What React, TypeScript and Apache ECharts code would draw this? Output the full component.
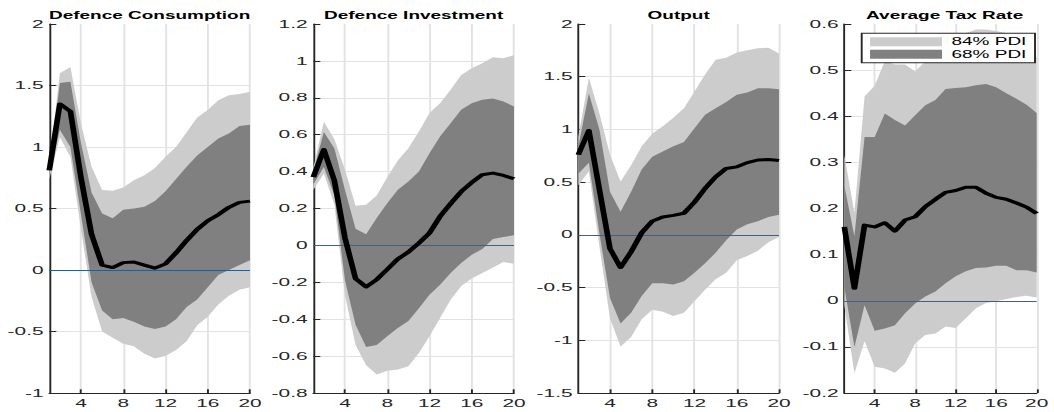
import React, { useEffect, useRef } from 'react';
import * as echarts from 'echarts';

// Horizon (quarters after the shock)
const periods = [1, 2, 3, 4, 5, 6, 7, 8, 9, 10, 11, 12, 13, 14, 15, 16, 17, 18, 19, 20];

// Defence Consumption
const dcMedian = [0.81, 1.35, 1.29, 0.75, 0.29, 0.04, 0.02, 0.06, 0.065, 0.04, 0.015, 0.05, 0.14, 0.24, 0.33, 0.40, 0.45, 0.51, 0.55, 0.56];
const dcUpper84 = [0.86, 1.60, 1.65, 1.19, 0.84, 0.65, 0.645, 0.67, 0.73, 0.77, 0.83, 0.92, 1.00, 1.12, 1.24, 1.30, 1.38, 1.42, 1.43, 1.45];
const dcUpper68 = [0.83, 1.52, 1.53, 1.03, 0.63, 0.46, 0.42, 0.49, 0.50, 0.515, 0.56, 0.64, 0.74, 0.84, 0.93, 1.00, 1.07, 1.11, 1.17, 1.18];
const dcLower68 = [0.78, 1.14, 1.00, 0.45, -0.10, -0.33, -0.40, -0.39, -0.42, -0.46, -0.48, -0.46, -0.40, -0.30, -0.24, -0.14, -0.04, 0.00, 0.04, 0.08];
const dcLower84 = [0.74, 1.08, 0.92, 0.33, -0.22, -0.50, -0.55, -0.60, -0.62, -0.68, -0.72, -0.70, -0.65, -0.58, -0.45, -0.38, -0.28, -0.21, -0.16, -0.14];

// Defence Investment
const diMedian = [0.37, 0.52, 0.35, 0.04, -0.18, -0.225, -0.185, -0.13, -0.074, -0.036, 0.013, 0.067, 0.157, 0.226, 0.292, 0.341, 0.383, 0.392, 0.379, 0.361];
const diUpper84 = [0.42, 0.67, 0.575, 0.41, 0.215, 0.22, 0.27, 0.37, 0.46, 0.527, 0.617, 0.717, 0.771, 0.843, 0.924, 0.96, 0.987, 1.02, 1.014, 1.032];
const diUpper68 = [0.40, 0.615, 0.525, 0.30, 0.09, 0.06, 0.148, 0.229, 0.301, 0.347, 0.40, 0.50, 0.59, 0.662, 0.735, 0.77, 0.79, 0.796, 0.78, 0.753];
const diLower68 = [0.33, 0.425, 0.27, -0.19, -0.43, -0.55, -0.54, -0.493, -0.448, -0.41, -0.34, -0.267, -0.213, -0.15, -0.096, -0.05, -0.02, 0.035, 0.045, 0.055];
const diLower84 = [0.30, 0.39, 0.22, -0.27, -0.54, -0.65, -0.70, -0.68, -0.673, -0.655, -0.583, -0.493, -0.394, -0.294, -0.22, -0.18, -0.15, -0.12, -0.09, -0.10];

// Output
const outMedian = [0.76, 0.99, 0.43, -0.13, -0.31, -0.16, 0.02, 0.13, 0.17, 0.185, 0.205, 0.31, 0.44, 0.55, 0.63, 0.645, 0.685, 0.71, 0.715, 0.705];
const outUpper84 = [0.93, 1.49, 1.15, 0.76, 0.505, 0.66, 0.84, 0.96, 1.03, 1.11, 1.20, 1.36, 1.52, 1.66, 1.68, 1.73, 1.75, 1.77, 1.775, 1.72];
const outUpper68 = [0.84, 1.34, 1.00, 0.41, 0.22, 0.41, 0.62, 0.74, 0.79, 0.84, 0.88, 1.01, 1.14, 1.20, 1.26, 1.33, 1.35, 1.39, 1.39, 1.38];
const outLower68 = [0.58, 0.685, 0.015, -0.60, -0.84, -0.74, -0.58, -0.46, -0.46, -0.47, -0.44, -0.36, -0.27, -0.17, -0.05, 0.05, 0.10, 0.13, 0.17, 0.19];
const outLower84 = [0.47, 0.60, -0.11, -0.79, -1.06, -0.97, -0.80, -0.71, -0.73, -0.77, -0.74, -0.63, -0.52, -0.42, -0.36, -0.24, -0.20, -0.15, -0.07, -0.02];

// Average Tax Rate
const taxMedian = [0.16, 0.027, 0.164, 0.16, 0.169, 0.151, 0.175, 0.182, 0.204, 0.22, 0.235, 0.239, 0.246, 0.246, 0.233, 0.224, 0.22, 0.212, 0.203, 0.189];
const taxUpper84 = [0.316, 0.19, 0.443, 0.466, 0.519, 0.512, 0.512, 0.497, 0.519, 0.54, 0.56, 0.57, 0.58, 0.588, 0.588, 0.585, 0.58, 0.57, 0.55, 0.528];
const taxUpper68 = [0.25, 0.14, 0.355, 0.355, 0.406, 0.392, 0.38, 0.402, 0.424, 0.435, 0.459, 0.461, 0.463, 0.467, 0.47, 0.463, 0.45, 0.438, 0.425, 0.407];
const taxLower68 = [0.03, -0.10, -0.01, -0.065, -0.06, -0.053, -0.027, -0.006, 0.009, 0.02, 0.038, 0.053, 0.064, 0.071, 0.072, 0.076, 0.076, 0.066, 0.066, 0.061];
const taxLower84 = [-0.01, -0.157, -0.088, -0.143, -0.147, -0.156, -0.136, -0.092, -0.074, -0.071, -0.056, -0.059, -0.038, -0.016, -0.005, -0.001, 0.004, 0.008, 0.011, 0.007];

const panelTitles = ['Defence Consumption', 'Defence Investment', 'Output', 'Average Tax Rate'];
const yMins = [-1, -0.8, -1.5, -0.2];
const yMaxs = [2, 1.2, 2, 0.6];
const yIntervals = [0.5, 0.2, 0.5, 0.1];

const bandNames = ['84% PDI', '68% PDI'];

// Layout: the figure is drawn on a narrower canvas and widened horizontally.
const PAGE_W = 1054;
const PAGE_H = 412;
const INNER_W = 555;
const STRETCH = PAGE_W / INNER_W;
const PANEL_LEFTS = [49.3, 313.3, 578.3, 844.3]; // in page pixels
const PANEL_W = 200.7;
const PANEL_TOP = 24;
const PANEL_H = 369;

const LIGHT = '#cccccc';
const DARK = '#808080';
const AXIS = '#262626';
const GRID = '#e2e2e2';
const ZERO_COLORS = ['#0a66b4', '#44607f', '#44607f', '#44607f'];
const FONT = '"Liberation Sans", Arial, Helvetica, sans-serif';

const panelData = [
  { median: dcMedian, u84: dcUpper84, u68: dcUpper68, l68: dcLower68, l84: dcLower84 },
  { median: diMedian, u84: diUpper84, u68: diUpper68, l68: diLower68, l84: diLower84 },
  { median: outMedian, u84: outUpper84, u68: outUpper68, l68: outLower68, l84: outLower84 },
  { median: taxMedian, u84: taxUpper84, u68: taxUpper68, l68: taxLower68, l84: taxLower84 },
];

const everyFourth = (_idx: number, value: string) => Number(value) % 4 === 0;

function buildOption() {
  const grid = PANEL_LEFTS.map((l) => ({
    left: l / STRETCH,
    top: PANEL_TOP,
    width: PANEL_W / STRETCH,
    height: PANEL_H,
    containLabel: false,
  }));

  const xAxis = PANEL_LEFTS.map((_, i) => ({
    type: 'category',
    gridIndex: i,
    position: 'bottom',
    data: periods.map(String),
    boundaryGap: false,
    axisLine: { show: true, onZero: false, lineStyle: { color: AXIS, width: 1 } },
    axisTick: { show: true, inside: true, length: 3.7, interval: everyFourth, lineStyle: { color: AXIS } },
    axisLabel: { interval: everyFourth, color: AXIS, fontSize: 11, fontFamily: FONT, margin: 5 },
    splitLine: { show: true, interval: everyFourth, lineStyle: { color: GRID, width: 1 } },
  }));

  const yAxis = PANEL_LEFTS.map((_, i) => ({
    type: 'value',
    gridIndex: i,
    position: 'left',
    min: yMins[i],
    max: yMaxs[i],
    interval: yIntervals[i],
    axisLine: { show: true, onZero: false, lineStyle: { color: AXIS, width: 1 } },
    axisTick: { show: true, inside: true, length: 3.7, lineStyle: { color: AXIS } },
    axisLabel: { color: AXIS, fontSize: 11, fontFamily: FONT, margin: 3 },
    splitLine: { show: true, showMaxLine: false, lineStyle: { color: GRID, width: 1 } },
  }));

  const series: any[] = [];
  panelData.forEach((p, i) => {
    const common = {
      type: 'line',
      xAxisIndex: i,
      yAxisIndex: i,
      symbol: 'none',
      silent: true,
      stackStrategy: 'all',
      lineStyle: { width: 0, opacity: 0 },
    };
    // 84% band: invisible base at the lower bound, filled width on top
    series.push({ ...common, name: 'base84', stack: `outer${i}`, data: p.l84, z: 1 });
    series.push({
      ...common,
      name: bandNames[0],
      stack: `outer${i}`,
      data: p.u84.map((v, k) => v - p.l84[k]),
      areaStyle: { color: LIGHT, opacity: 1 },
      itemStyle: { color: LIGHT },
      z: 1,
    });
    // 68% band
    series.push({ ...common, name: 'base68', stack: `inner${i}`, data: p.l68, z: 2 });
    series.push({
      ...common,
      name: bandNames[1],
      stack: `inner${i}`,
      data: p.u68.map((v, k) => v - p.l68[k]),
      areaStyle: { color: DARK, opacity: 1 },
      itemStyle: { color: DARK },
      z: 2,
      markLine: {
        silent: true,
        symbol: 'none',
        z: 3,
        label: { show: false },
        lineStyle: { color: ZERO_COLORS[i], width: 1.2, type: 'solid' },
        data: [{ yAxis: 0 }],
      },
    });
    // Median response
    series.push({
      type: 'line',
      name: 'Median',
      xAxisIndex: i,
      yAxisIndex: i,
      symbol: 'none',
      silent: true,
      data: p.median,
      lineStyle: { color: '#000', width: 3, join: 'round' },
      itemStyle: { color: '#000' },
      z: 10,
    });
  });

  const title = panelTitles.map((t, i) => ({
    text: t,
    left: (PANEL_LEFTS[i] + PANEL_W / 2) / STRETCH,
    top: 10,
    textAlign: 'center',
    padding: 0,
    textStyle: { fontSize: 10, fontWeight: 'bold', color: '#000', fontFamily: FONT },
  }));

  return {
    animation: false,
    backgroundColor: '#ffffff',
    title,
    grid,
    xAxis,
    yAxis,
    legend: {
      data: [
        { name: bandNames[0], icon: 'rect', itemStyle: { color: LIGHT, borderWidth: 0 } },
        { name: bandNames[1], icon: 'rect', itemStyle: { color: DARK, borderWidth: 0 } },
      ],
      orient: 'vertical',
      left: 861.7 / STRETCH,
      top: 33.3,
      itemWidth: 37.9,
      itemHeight: 9,
      itemGap: 2.6,
      padding: [3.4, 4.5, 3.4, 4.4],
      borderColor: AXIS,
      borderWidth: 1,
      backgroundColor: '#ffffff',
      selectedMode: false,
      textStyle: { fontSize: 10, color: '#000', fontFamily: FONT },
    },
    series,
  };
}

export default function App() {
  const ref = useRef<HTMLDivElement>(null);

  useEffect(() => {
    if (!ref.current) return;
    const chart = echarts.init(ref.current, null, { renderer: 'svg', width: INNER_W, height: PAGE_H });
    chart.setOption(buildOption() as any);
    return () => chart.dispose();
  }, []);

  return (
    <div
      style={{
        position: 'fixed',
        left: 0,
        top: 0,
        width: PAGE_W,
        height: PAGE_H,
        overflow: 'hidden',
        background: '#fff',
      }}
    >
      <div
        ref={ref}
        style={{
          width: INNER_W,
          height: PAGE_H,
          transform: `scaleX(${STRETCH})`,
          transformOrigin: '0 0',
        }}
      />
    </div>
  );
}
